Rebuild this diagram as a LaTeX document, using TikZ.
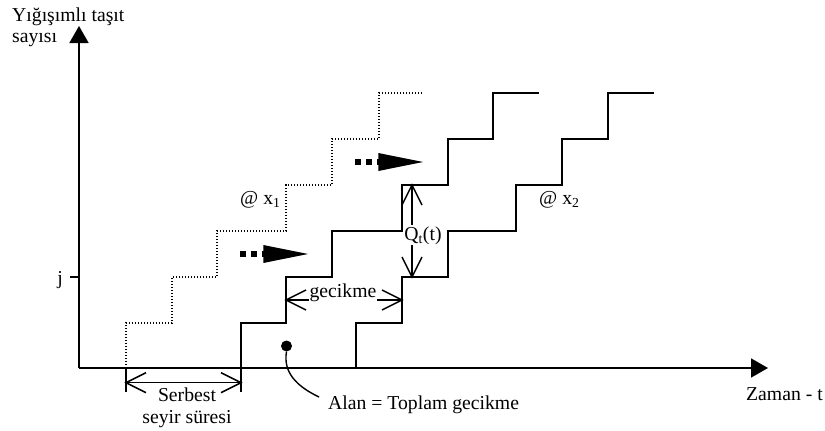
\documentclass[tikz,border=0pt]{standalone}
\usepackage{fontspec}
\setmainfont{Liberation Serif}
\usetikzlibrary{arrows.meta}
\begin{document}
\begin{tikzpicture}[x=1pt,y=-1pt,
  every node/.style={font=\fontsize{19.7}{21}\selectfont},
  lbl/.style={inner sep=0pt},
  axisline/.style={line width=1.8pt,-{Triangle[length=17pt,width=19pt]}},
  stepcurve/.style={line width=1.8pt},
  dotcurve/.style={line width=1.4pt,dash pattern=on 1.4pt off 1.6pt},
  dimline/.style={line width=1.5pt},
  barb/.style={line width=1.5pt,line join=miter},
  fatsq/.style={fill=black}]
\useasboundingbox (0,0) rectangle (825,431);
% axes
\coordinate (O) at (79,368);
\coordinate (ytip) at (79,26);
\coordinate (xtip) at (768,368);
\draw[axisline] (O) -- (ytip);
\draw[axisline] (O) -- (xtip);
\node[lbl,anchor=base west] (ylab1) at (12,21.7) {Yığışımlı taşıt};
\node[lbl,anchor=base west] (ylab2) at (12,42.7) {sayısı};
\node[lbl,anchor=base west] (xlab) at (746,400.7) {Zaman - t};
% j tick
\coordinate (jt) at (70,277);
\coordinate (ja) at (79,277);
\draw[line width=1.5pt] (jt) -- (ja);
\node[lbl,anchor=base] (jlab) at (60,284.5) {j};
% dotted curve
\draw[dotcurve] (126,368) -- (126,323) -- (172,323) -- (172,277) -- (217,277) -- (217,231)
  -- (286,231) -- (286,185) -- (332,185) -- (332,139) -- (379,139) -- (379,93) -- (423,93);
% solid curve 1
\draw[stepcurve] (241,368) -- (241,323) -- (286,323) -- (286,277) -- (332,277) -- (332,231)
  -- (402,231) -- (402,185) -- (448,185) -- (448,139) -- (493,139) -- (493,93) -- (539,93);
% solid curve 2
\draw[stepcurve] (356,368) -- (356,323) -- (402,323) -- (402,277) -- (448,277) -- (448,231)
  -- (516,231) -- (516,185) -- (562,185) -- (562,139) -- (608,139) -- (608,93) -- (654,93);
% labels @ x
\node[lbl,anchor=base west] (x1lab) at (240,204) {@ x\textsubscript{1}};
\node[lbl,anchor=base west] (x2lab) at (539,204) {@ x\textsubscript{2}};
% fat arrows
\fill[fatsq] (240,251.2) rectangle (245.7,256.8);
\fill[fatsq] (251,251.2) rectangle (256.7,256.8);
\fill[fatsq] (261.5,251.2) rectangle (264,256.8);
\fill (263.3,245) -- (308,254) -- (263.3,263) -- cycle;
\fill[fatsq] (355,159.2) rectangle (360.7,164.8);
\fill[fatsq] (366,159.2) rectangle (371.7,164.8);
\fill[fatsq] (376.5,159.2) rectangle (379,164.8);
\fill (378.3,153) -- (423,162) -- (378.3,171) -- cycle;
% Qt(t)
\coordinate (qtop) at (412,185);
\coordinate (qbot) at (412,277);
\draw[dimline] (qtop) -- (qbot);
\draw[barb] (qtop) ++(-10,20) -- (qtop) -- ++(10,20);
\draw[barb] (qbot) ++(-10,-20) -- (qbot) -- ++(10,-20);
\node[fill=white,inner sep=1pt,anchor=base] (qlab) at (423,240) {Q\textsubscript{t}(t)};
% gecikme
\coordinate (gl) at (286,300);
\coordinate (gr) at (402,300);
\draw[dimline] (gl) -- (gr);
\draw[barb] (gl) ++(20,-10) -- (gl) -- ++(20,10);
\draw[barb] (gr) ++(-20,-10) -- (gr) -- ++(-20,10);
\node[fill=white,inner sep=1pt,anchor=base] (glab) at (343,297) {gecikme};
% serbest seyir suresi
\coordinate (sl) at (126,382.7);
\coordinate (sr) at (241,382.7);
\coordinate (slb) at (126,392);
\coordinate (srb) at (241,392);
\draw[line width=1.5pt] (126,368) -- (slb);
\draw[line width=1.5pt] (241,368) -- (srb);
\draw[dimline] (sl) -- (sr);
\draw[barb] (sl) ++(20,-10) -- (sl) -- ++(20,10);
\draw[barb] (sr) ++(-20,-10) -- (sr) -- ++(-20,10);
\node[lbl,anchor=base] (serb) at (187,401.7) {Serbest};
\node[lbl,anchor=base] (seyir) at (187,423) {seyir süresi};
% alan
\node[circle,fill=black,inner sep=0pt,minimum size=11pt] (dot) at (286.5,346) {};
\node[lbl,anchor=base west] (alan) at (328,409) {Alan = Toplam gecikme};
\coordinate (cend) at (319,397);
\draw[line width=1.4pt] (dot.south) .. controls (283,372) and (296,386) .. (cend);
\end{tikzpicture}
\end{document}
